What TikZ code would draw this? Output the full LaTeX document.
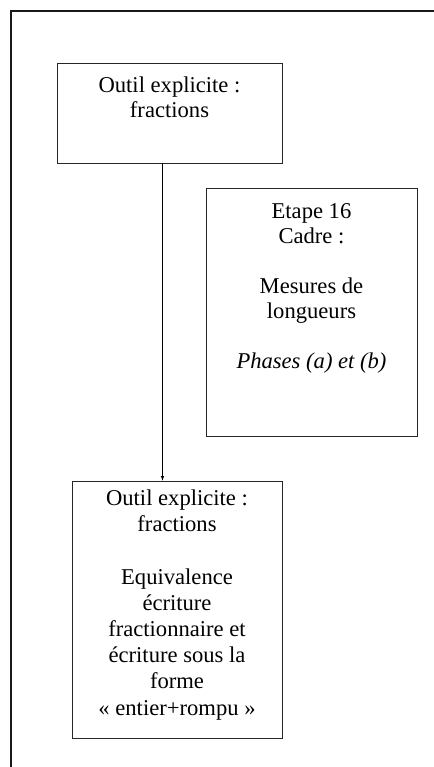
\documentclass[tikz,border=0pt]{standalone}
\usepackage{fontspec}
\setmainfont{Liberation Serif}
\usepackage{tikz}
\usetikzlibrary{positioning}

\begin{document}
\begin{tikzpicture}[
		x=1pt,y=1pt,
		box/.style={
			draw=black!85,
			rectangle,
			line width=0.7pt,
			inner sep=0pt,
		},
		txt/.style={
			align=center,
			inner sep=0pt,
			font=\fontsize{22.6}{25}\selectfont,
		},
		frame/.style={draw=black!90, line width=1.6pt},
		>=latex
		]
		\useasboundingbox (0,0) rectangle (433,-767);
		% Draw the outer frame (cut by the page)
		\draw[frame] (11,-11) rectangle (450,-790);
		% Draw the boxes
		\node [box,minimum width=225,minimum height=100] (outilA) at (169.5,-113) {};
		\node [box,minimum width=211,minimum height=248] (etape) at (311.5,-312) {};
		\node [box,minimum width=210,minimum height=257] (outilB) at (177,-609.5) {};
		% Draw the texts
		\node [txt,below=14 of outilA.north] (outilAtxt) {Outil explicite :\\fractions};
		\node [txt,below=16 of etape.north,font=\fontsize{22.6}{25}\selectfont] (etapetxt)
			{Etape 16\\Cadre :\\[25pt]Mesures de\\longueurs\\[25pt]\textit{Phases (a) et (b)}};
		\node [txt,below=9 of outilB.north,font=\fontsize{22.6}{26.2}\selectfont] (outilBtxt)
			{Outil explicite :\\fractions\\[26.2pt]Equivalence\\écriture\\fractionnaire et\\écriture sous la\\forme\\« entier+rompu »};
		% Draw the arrow
		\draw[->,line width=0.6pt] ([xshift=-7]outilA.south) -- ([xshift=-7]outilA.south |- outilB.north);
	\end{tikzpicture}
\end{document}
